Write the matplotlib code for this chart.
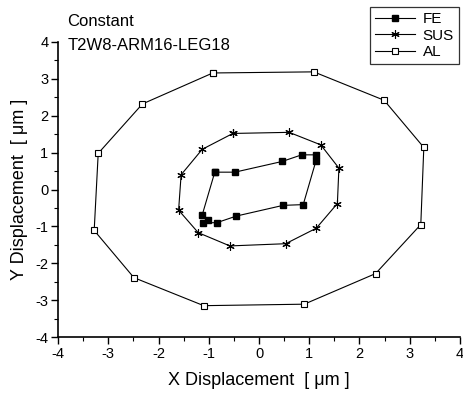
import matplotlib
matplotlib.use("Agg")
from matplotlib import pyplot as plt
from matplotlib.ticker import MultipleLocator

plt.rcParams['font.family'] = ['Liberation Sans', 'DejaVu Sans']
plt.rcParams['axes.unicode_minus'] = False

# Displacement loops (closed: first point repeated at the end)
fe_x = [-0.88, -0.48, 0.46, 0.85, 1.13, 1.13, 0.88, 0.48, -0.45, -0.84, -1.11, -1.01, -1.13, -0.88]
fe_y = [0.47, 0.47, 0.76, 0.94, 0.94, 0.76, -0.41, -0.43, -0.72, -0.90, -0.90, -0.83, -0.69, 0.47]

sus_x = [-0.52, 0.60, 1.23, 1.59, 1.56, 1.14, 0.53, -0.58, -1.21, -1.60, -1.55, -1.13, -0.52]
sus_y = [1.52, 1.55, 1.21, 0.58, -0.38, -1.05, -1.47, -1.53, -1.17, -0.56, 0.40, 1.09, 1.52]

al_x = [-0.92, 1.09, 2.49, 3.28, 3.22, 2.32, 0.90, -1.10, -2.49, -3.28, -3.20, -2.32, -0.92]
al_y = [3.16, 3.19, 2.42, 1.14, -0.95, -2.28, -3.11, -3.15, -2.39, -1.11, 0.98, 2.32, 3.16]

ticks = [-4, -3, -2, -1, 0, 1, 2, 3, 4]


def main():
    fig = plt.figure(figsize=(4.63, 3.95), dpi=100)
    ax = fig.add_axes([0.1253, 0.1468, 0.8682, 0.7469])

    ax.plot(fe_x, fe_y, color="black", lw=0.8, marker="s", ms=5,
            mfc="black", mec="black", label="FE")
    # asterisk marker for SUS
    ax.plot(sus_x, sus_y, color="black", lw=0.8, marker=(6, 2, 0), ms=6,
            mec="black", mew=0.8, label="SUS")
    ax.plot(al_x, al_y, color="black", lw=0.8, marker="s", ms=5,
            mfc="white", mec="black", mew=0.8, label="AL")

    ax.set_xlim(-4, 4)
    ax.set_ylim(-4, 4)
    ax.set_xticks(ticks)
    ax.set_yticks(ticks)
    ax.xaxis.set_minor_locator(MultipleLocator(0.5))
    ax.yaxis.set_minor_locator(MultipleLocator(0.5))
    ax.tick_params(which="major", direction="out", length=5, width=1, labelsize=10.5, pad=2)
    ax.tick_params(which="minor", direction="out", length=3, width=0.8)

    for side in ("top", "right"):
        ax.spines[side].set_visible(False)
    for side in ("left", "bottom"):
        ax.spines[side].set_linewidth(1.2)

    ax.set_xlabel("X Displacement  [ μm ]", fontsize=13, labelpad=8)
    ax.set_ylabel("Y Displacement  [ μm ]", fontsize=13, labelpad=5)

    fig.text(0.146, 0.945, "Constant", fontsize=12, va="center", ha="left")
    fig.text(0.146, 0.886, "T2W8-ARM16-LEG18", fontsize=12, va="center", ha="left")

    leg = fig.legend(loc="upper right", bbox_to_anchor=(0.992, 0.982), fontsize=11,
                     frameon=True, fancybox=False, edgecolor="black",
                     handlelength=2.6, handletextpad=0.5, borderpad=0.35,
                     labelspacing=0.15, borderaxespad=0)
    leg.get_frame().set_linewidth(0.9)

    fig.savefig("out.png", dpi=100)


if __name__ == "__main__":
    main()
